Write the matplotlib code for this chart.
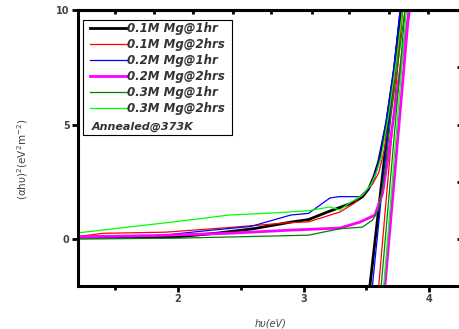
#Tauc plot of Mg doped films, annealed at 373K
#curves

import numpy as np
import matplotlib
matplotlib.use("Agg")
import matplotlib.pyplot as plt
from matplotlib.lines import Line2D
from matplotlib.patches import Rectangle

labels = ["0.1M Mg@1hr", "0.1M Mg@2hrs", "0.2M Mg@1hr",
          "0.2M Mg@2hrs", "0.3M Mg@1hr", "0.3M Mg@2hrs"]
colors = ["black", "#ff0000", "#0000ff", "#ff00ff", "#008000", "#00ff00"]
widths = [2.0, 0.9, 0.9, 2.0, 0.9, 0.9]

# photon energy (eV) and (alpha h nu)^2 for each sample
e_01_1 = [1.22, 1.6, 2.0, 2.3, 2.6, 2.9, 3.04, 3.2, 3.3, 3.4, 3.47, 3.52, 3.56, 3.6, 3.66, 3.72, 3.79]
a_01_1 = [0.08, 0.08, 0.1, 0.25, 0.45, 0.74, 0.85, 1.2, 1.4, 1.6, 1.85, 2.2, 2.7, 3.4, 5.0, 7.2, 10.5]

e_01_2 = [1.22, 1.4, 1.9, 2.4, 2.9, 3.04, 3.29, 3.4, 3.48, 3.55, 3.6, 3.64, 3.7, 3.75, 3.8]
a_01_2 = [0.12, 0.25, 0.3, 0.5, 0.72, 0.75, 1.18, 1.55, 2.0, 2.4, 2.9, 3.8, 5.8, 8.0, 10.5]

e_02_1 = [1.22, 1.6, 1.85, 2.2, 2.58, 2.9, 3.04, 3.21, 3.28, 3.45, 3.52, 3.56, 3.6, 3.66, 3.72, 3.78]
a_02_1 = [0.08, 0.1, 0.15, 0.35, 0.55, 1.05, 1.12, 1.79, 1.85, 1.85, 2.2, 2.7, 3.4, 5.2, 7.5, 10.5]

e_02_2 = [1.22, 1.8, 2.4, 2.9, 3.29, 3.45, 3.57, 3.63, 3.68, 3.74, 3.8, 3.86]
a_02_2 = [0.1, 0.15, 0.25, 0.39, 0.48, 0.74, 1.05, 2.0, 3.8, 6.2, 8.5, 10.5]

e_03_1 = [1.22, 2.0, 2.5, 3.04, 3.29, 3.47, 3.55, 3.6, 3.65, 3.7, 3.76, 3.82]
a_03_1 = [0.0, 0.04, 0.1, 0.17, 0.45, 0.52, 0.83, 1.3, 3.0, 5.5, 8.0, 10.5]

e_03_2 = [1.22, 1.6, 2.0, 2.41, 2.8, 3.04, 3.21, 3.29, 3.36, 3.47, 3.54, 3.58, 3.62, 3.68, 3.74, 3.8]
a_03_2 = [0.28, 0.52, 0.77, 1.05, 1.15, 1.24, 1.4, 1.27, 1.55, 1.92, 2.4, 2.9, 3.6, 5.5, 7.8, 10.5]

energies = [e_01_1, e_01_2, e_02_1, e_02_2, e_03_1, e_03_2]
alphas = [a_01_1, a_01_2, a_02_1, a_02_2, a_03_1, a_03_2]

# linear extrapolation lines: x at y=-2 and at y=10
fit_y = [-2.0, 10.0]
fit_x = [[3.53, 3.78], [3.60, 3.79], [3.55, 3.77],
         [3.65, 3.84], [3.62, 3.81], [3.64, 3.82]]

top_ticks = [1.496, 1.808, 2.12, 2.44, 2.744, 3.064, 3.36, 3.68, 3.99]

fig = plt.figure(figsize=(4.6, 3.29), dpi=100)
ax = fig.add_axes([78/460, 1-286/329, 386/460, 276/329])

for i in range(len(labels)):
	ax.plot(energies[i], alphas[i], color=colors[i], lw=widths[i])
	ax.plot(fit_x[i], fit_y, color=colors[i], lw=widths[i])

ax.set_xlim(1.203, 4.279)
ax.set_ylim(-2.05, 10)

for s in ["left", "bottom", "top"]:
	ax.spines[s].set_linewidth(2.2)
ax.spines["right"].set_visible(False)

ax.set_xticks([2, 3, 4])
ax.set_xticks([1.5, 2.5, 3.5], minor=True)
ax.set_yticks([0, 5, 10])
ax.tick_params(axis="both", which="major", direction="out", length=4, width=2,
			   labelsize=7, labelcolor="#444444", pad=2)
ax.tick_params(axis="x", which="minor", direction="out", length=3, width=2)
for t in ax.get_xticklabels() + ax.get_yticklabels():
	t.set_fontweight("bold")

top = ax.secondary_xaxis("top")
top.set_xticks(top_ticks)
top.set_xticklabels([])
top.tick_params(direction="in", length=3, width=2)
top.spines["top"].set_linewidth(2.2)

right = ax.secondary_yaxis("right")
right.set_yticks([0, 2.5, 5, 7.5, 10])
right.set_yticklabels([])
right.tick_params(direction="in", length=5, width=2)
right.spines["right"].set_visible(False)

ax.set_xlabel("h\u03c5(eV)", fontsize=7, color="#444444", style="italic", labelpad=10)
ax.set_ylabel("(\u03b1h\u03c5)$^2$(eV$^2$m$^{-2}$)", fontsize=7.5, color="#444444")
ax.yaxis.set_label_coords(-0.125, 0.46)

# legend, boxed together with the annealing note
handles = [Line2D([], [], color=colors[i], lw=widths[i]) for i in range(len(labels))]
leg = ax.legend(handles, labels, loc="upper left", bbox_to_anchor=(0.031, 0.955),
				frameon=False, handlelength=3.1, handletextpad=0.0, labelspacing=0.25,
				borderaxespad=0, borderpad=0, prop={"size": 8.5, "weight": "bold", "style": "italic"})
for t in leg.get_texts():
	t.set_color("#333333")
ax.add_patch(Rectangle((0.013, 0.547), 0.386, 0.417, transform=ax.transAxes,
					   fill=False, lw=0.8, edgecolor="black", zorder=5))
ax.text(0.036, 0.577, "Annealed@373K", transform=ax.transAxes, fontsize=8,
		fontweight="bold", style="italic", color="#333333", va="center")

fig.savefig("out.png", dpi=100)
